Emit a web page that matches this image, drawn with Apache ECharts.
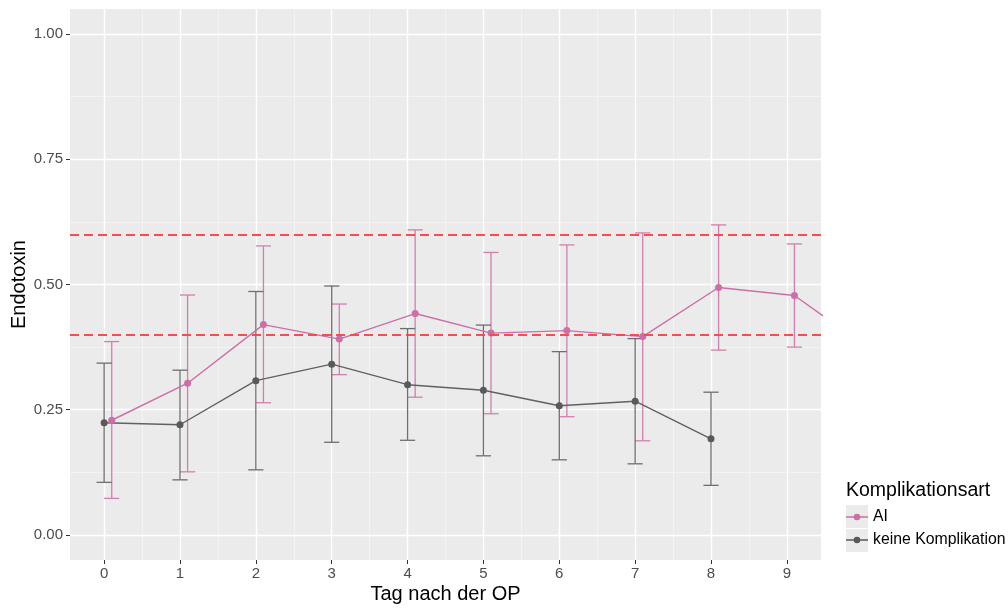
<!DOCTYPE html>
<html>
<head>
<meta charset="utf-8">
<script src="https://cdn.jsdelivr.net/npm/echarts@6/dist/echarts.min.js"></script>
<style>
  html, body { margin: 0; padding: 0; background: #ffffff; }
  #chart { width: 1008px; height: 608px; }
</style>
</head>
<body>
<div id="chart"></div>
<script>
// Tage nach der Operation
const daysAI = [0, 1, 2, 3, 4, 5, 6, 7, 8, 9, 10];
const daysNone = [0, 1, 2, 3, 4, 5, 6, 7, 8];

// Endotoxin: Mittelwert und Fehlerbalken je Gruppe
const aiMean = [0.229, 0.303, 0.420, 0.391, 0.442, 0.403, 0.408, 0.396, 0.494, 0.478, 0.370];
const aiLow  = [0.073, 0.126, 0.264, 0.320, 0.275, 0.242, 0.236, 0.188, 0.369, 0.375, null];
const aiHigh = [0.386, 0.479, 0.577, 0.461, 0.609, 0.564, 0.579, 0.603, 0.619, 0.581, null];

const noneMean = [0.224, 0.220, 0.308, 0.341, 0.300, 0.289, 0.258, 0.267, 0.192];
const noneLow  = [0.105, 0.110, 0.130, 0.185, 0.189, 0.158, 0.150, 0.142, 0.099];
const noneHigh = [0.343, 0.329, 0.486, 0.497, 0.412, 0.419, 0.366, 0.392, 0.285];

// Referenzbereich
const refLines = [0.4, 0.6];

// Achsenbeschriftung
const xTicks = [0, 1, 2, 3, 4, 5, 6, 7, 8, 9];
const xMinor = [0.5, 1.5, 2.5, 3.5, 4.5, 5.5, 6.5, 7.5, 8.5];
const yTicks = [0, 0.25, 0.5, 0.75, 1];
const yMinor = [0.125, 0.375, 0.625, 0.875];

const groupNames = ['AI', 'keine Komplikation'];

const FONT = 'Liberation Sans, Arial, sans-serif';
const PINK = '#cc6fa6';
const PINK_BAR = '#d17fae';
const GREY = '#616161';
const GREY_BAR = '#6e6e6e';
const DODGE_AI = 0.1;
const CAP_HALF = 0.1;

function pointsOf(days, vals, shift) {
  return days.map((d, i) => [d + shift, vals[i]]);
}
function barsOf(days, lo, hi, shift) {
  const out = [];
  days.forEach((d, i) => {
    if (lo[i] != null && hi[i] != null) out.push([d + shift, lo[i], hi[i]]);
  });
  return out;
}

function errorBarRenderer(color) {
  return function (params, api) {
    const x = api.value(0);
    const top = api.coord([x, api.value(2)]);
    const bot = api.coord([x, api.value(1)]);
    const hw = api.size([CAP_HALF, 0])[0];
    const style = { stroke: color, lineWidth: 1.3, fill: null };
    return {
      type: 'group',
      children: [
        { type: 'line', shape: { x1: top[0], y1: top[1], x2: bot[0], y2: bot[1] }, style },
        { type: 'line', shape: { x1: top[0] - hw, y1: top[1], x2: top[0] + hw, y2: top[1] }, style },
        { type: 'line', shape: { x1: bot[0] - hw, y1: bot[1], x2: bot[0] + hw, y2: bot[1] }, style }
      ]
    };
  };
}

// line with a filled dot, as a single legend glyph (both sub-paths clockwise)
const legendIcon = 'path://M0,2.6 L22,2.6 L22,4 L0,4 Z M7.7,3.3 A3.3,3.3 0 1 1 14.3,3.3 A3.3,3.3 0 1 1 7.7,3.3 Z';

const chart = echarts.init(document.getElementById('chart'), null, { renderer: 'canvas' });

const minorLine = { show: true, lineStyle: { color: '#f7f7f7', width: 0.7 } };
const majorLine = { show: true, lineStyle: { color: '#ffffff', width: 1.4 } };

chart.setOption({
  backgroundColor: '#ffffff',
  animation: false,
  textStyle: { fontFamily: FONT },
  title: {
    text: 'Komplikationsart',
    left: 846,
    top: 481,
    padding: 0,
    textStyle: { fontFamily: FONT, fontSize: 19.5, fontWeight: 'normal', color: '#000000' }
  },
  legend: {
    data: groupNames,
    orient: 'vertical',
    left: 846,
    top: 509,
    padding: 0,
    itemWidth: 22,
    itemHeight: 6.6,
    itemGap: 7,
    selectedMode: false,
    icon: legendIcon,
    textStyle: { fontFamily: FONT, fontSize: 15.8, color: '#000000' }
  },
  graphic: [
    { type: 'rect', left: 846, top: 505, shape: { width: 22, height: 23 }, style: { fill: '#ebebeb' }, z: 1 },
    { type: 'rect', left: 846, top: 529, shape: { width: 22, height: 23 }, style: { fill: '#ebebeb' }, z: 1 }
  ],
  grid: {
    left: 70,
    right: 187,
    top: 9,
    bottom: 48,
    containLabel: false,
    outerBoundsMode: 'none',
    show: true,
    backgroundColor: '#ebebeb',
    borderWidth: 0
  },
  xAxis: [
    {
      type: 'value',
      position: 'bottom',
      min: -0.45,
      max: 9.45,
      name: 'Tag nach der OP',
      nameLocation: 'middle',
      nameGap: 24,
      nameMoveOverlap: false,
      nameTextStyle: { fontFamily: FONT, fontSize: 20, color: '#000000' },
      axisLine: { show: false, onZero: false },
      axisTick: { show: true, length: 4, customValues: xTicks, lineStyle: { color: '#333333', width: 1 } },
      axisLabel: { customValues: xTicks, margin: 6, fontFamily: FONT, fontSize: 15, color: '#4d4d4d' },
      splitLine: majorLine,
      z: 2
    },
    {
      type: 'value',
      position: 'bottom',
      min: -0.45,
      max: 9.45,
      axisLine: { show: false, onZero: false },
      axisTick: { show: false, customValues: xMinor },
      axisLabel: { show: false, customValues: xMinor },
      splitLine: minorLine,
      z: 1
    }
  ],
  yAxis: [
    {
      type: 'value',
      position: 'left',
      min: -0.05,
      max: 1.05,
      name: 'Endotoxin',
      nameLocation: 'middle',
      nameGap: 41,
      nameMoveOverlap: false,
      nameTextStyle: { fontFamily: FONT, fontSize: 20, color: '#000000' },
      axisLine: { show: false, onZero: false },
      axisTick: { show: true, length: 4, customValues: yTicks, lineStyle: { color: '#333333', width: 1 } },
      axisLabel: {
        customValues: yTicks, margin: 7, fontFamily: FONT, fontSize: 15, color: '#4d4d4d',
        formatter: v => v.toFixed(2)
      },
      splitLine: majorLine,
      z: 2
    },
    {
      type: 'value',
      position: 'left',
      min: -0.05,
      max: 1.05,
      axisLine: { show: false, onZero: false },
      axisTick: { show: false, customValues: yMinor },
      axisLabel: { show: false, customValues: yMinor },
      splitLine: minorLine,
      z: 1
    }
  ],
  series: [
    {
      name: 'AI Fehlerbalken',
      type: 'custom',
      renderItem: errorBarRenderer(PINK_BAR),
      data: barsOf(daysAI, aiLow, aiHigh, DODGE_AI),
      encode: { x: 0, y: [1, 2] },
      clip: true,
      z: 3
    },
    {
      name: 'keine Komplikation Fehlerbalken',
      type: 'custom',
      renderItem: errorBarRenderer(GREY_BAR),
      data: barsOf(daysNone, noneLow, noneHigh, 0),
      encode: { x: 0, y: [1, 2] },
      clip: true,
      z: 3
    },
    {
      name: 'AI',
      type: 'line',
      data: pointsOf(daysAI, aiMean, DODGE_AI),
      symbol: 'circle',
      symbolSize: 7,
      showAllSymbol: true,
      clip: true,
      itemStyle: { color: PINK, borderWidth: 0 },
      lineStyle: { color: PINK, width: 1.4 },
      z: 4
    },
    {
      name: 'keine Komplikation',
      type: 'line',
      data: pointsOf(daysNone, noneMean, 0),
      symbol: 'circle',
      symbolSize: 7,
      showAllSymbol: true,
      clip: true,
      itemStyle: { color: '#595959', borderWidth: 0 },
      lineStyle: { color: GREY, width: 1.4 },
      z: 4,
      markLine: {
        silent: true,
        symbol: ['none', 'none'],
        label: { show: false },
        lineStyle: { color: '#f2474b', width: 2, type: [9, 5], opacity: 0.95 },
        data: refLines.map(v => ({ yAxis: v })),
        z: 6
      }
    }
  ]
});
</script>
</body>
</html>
